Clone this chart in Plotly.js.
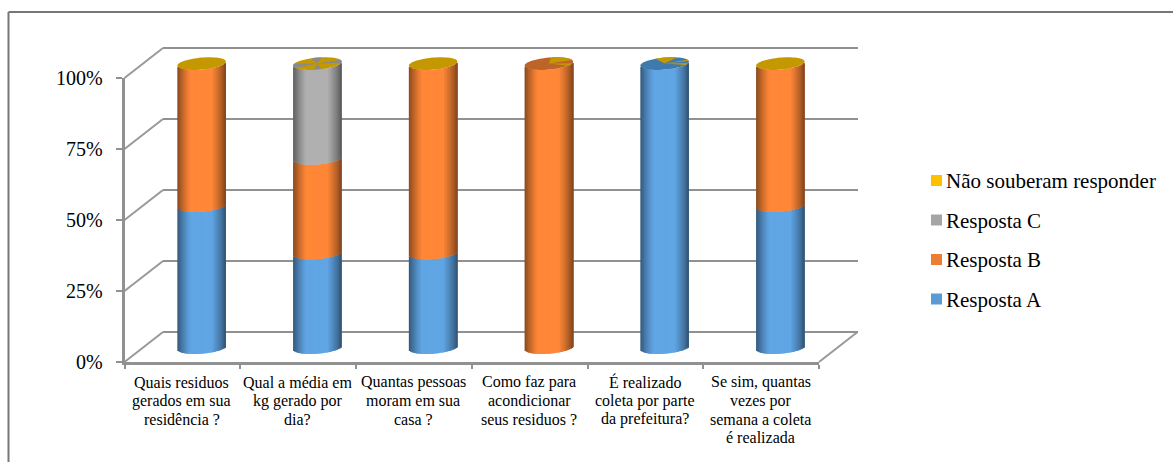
<!DOCTYPE html>
<html><head><meta charset="utf-8">
<script src="https://cdn.plot.ly/plotly-3.0.1.min.js"></script>
<style>html,body{margin:0;padding:0;background:#fff}</style></head>
<body><div id="chart" style="width:1173px;height:462px"></div>
<script>
const categories = ["Quais residuos<br>gerados em sua<br>residência ?","Qual a média em<br>kg gerado por<br>dia?","Quantas pessoas<br>moram em sua<br>casa ?","Como faz para<br>acondicionar<br>seus residuos ?","É realizado<br>coleta por parte<br>da prefeitura?","Se sim, quantas<br>vezes por<br>semana a coleta<br>é realizada"];
const respostaA = [50,33.3,33.3,0,100,50];
const respostaB = [50,33.3,66.7,100,0,50];
const respostaC = [0,33.4,0,0,0,0];
const naoSouberam = [0,0,0,0,0,0];
const seriesNames = ["Resposta A","Resposta B","Resposta C","Não souberam responder"];
const seriesColors = ["#5B9BD5","#ED7D31","#A5A5A5","#FFC000"];
const brightColors = [[96,165,228],[255,135,55],[176,176,176],[255,192,0]];
const capBase = ["#C49800","#C49800","#C49800","#BC6429","#3F7AAD","#C49800"];
const capWedges = [[],[[160,205,"#8A8A8A"],[-12,18,"#8A8A8A"],[80,105,"#8A8A8A"],[262,280,"#8A8A8A"]],[],[[15,85,"#C49800"],[-38,-15,"#C49800"]],[[60,112,"#C49800"],[5,20,"#C49800"],[-32,-12,"#C49800"]],[]];
const yTicks = [0,25,50,75,100];
const yTickLabels = ["0%","25%","50%","75%","100%"];

// geometry in pixels of the picture
const W=1173,H=462;
const FX0=124.5,FX1=819,FY0=362,FY1=78;   // front frame
const DX=38.5,DY=30;                      // depth of the box
const SPAN=FY0-FY1, UNIT=(FX1-FX0)/6;
const R=24.3,B=6,TILT=-4/48.4,N=40;
const PAD=6;                               // value padding of the cylinder axis
const WPAD=1;                              // value padding of the back wall axis
const dom=(a,b)=>[a/W,b/W];
const vdom=(a,b)=>[(H-a)/H,(H-b)/H];
const pxX=x=>x/W, pxY=y=>(H-y)/H;

function shade(t){
  const u=Math.abs(t);
  const s=u<0.45?1:1-0.46*Math.pow((u-0.45)/0.55,1.2);
  return s*(t>0&&u>=0.45?0.96:1);
}
function stripColor(c,t){const s=shade(t);return `rgb(${c.map(v=>Math.round(v*s)).join(",")})`;}

const stacks=[respostaA,respostaB,respostaC,naoSouberam];
const traces=[];
// anchors the back wall and the front axes
traces.push({type:"scatter",x:[0],y:[null],xaxis:"x",yaxis:"y",showlegend:false,hoverinfo:"skip"});
traces.push({type:"bar",x:categories,y:categories.map(()=>null),xaxis:"x2",yaxis:"y2",showlegend:false,hoverinfo:"skip"});
// cylinders as vertical strips
const cum=categories.map(()=>0);
stacks.forEach((s,k)=>{
  const xs=[],bs=[],hs=[],cs=[],ws=[];
  const w=2*R/N/UNIT;
  s.forEach((v,i)=>{
    if(v>0){
      for(let j=0;j<N;j++){
        const t=-1+(2*j+1)/N, dx=t*R;
        const dPx=TILT*dx+B*Math.sqrt(1-t*t);
        xs.push(i-R/UNIT+j*w);
        ws.push(j<N-1?2*w:w);
        bs.push(cum[i]-dPx/SPAN*100);
        hs.push(v);
        cs.push(stripColor(brightColors[k],t));
      }
    }
    cum[i]+=v;
  });
  if(xs.length) traces.push({type:"bar",x:xs,y:hs,base:bs,width:ws,offset:0,xaxis:"x3",yaxis:"y3",name:seriesNames[k],showlegend:false,hoverinfo:"skip",
    marker:{color:cs,line:{width:0}}});
});

function capPoint(i,deg){
  const a=deg*Math.PI/180, dx=R*Math.cos(a), dy=-B*Math.sin(a)+TILT*dx;
  return [i+dx/UNIT, 100-dy/SPAN*100];
}
function capPath(i,a0,a1,wedge){
  let d="",n=Math.max(6,Math.round(Math.abs(a1-a0)/6));
  if(wedge) d=`M${i},100 `;
  for(let j=0;j<=n;j++){const p=capPoint(i,a0+(a1-a0)*j/n);d+=(d?"L":"M")+p[0]+","+p[1]+" ";}
  return d+"Z";
}
const shapes=[],annotations=[];
const GRAY="#919191",WALL="#999999";
// outer frame: only the top and left edges are inside the picture
shapes.push({type:"line",xref:"paper",yref:"paper",x0:pxX(8.5),x1:1,y0:pxY(12),y1:pxY(12),line:{color:"#777777",width:2},layer:"below"});
shapes.push({type:"line",xref:"paper",yref:"paper",x0:pxX(8.5),x1:pxX(8.5),y0:pxY(12),y1:0,line:{color:"#777777",width:2},layer:"below"});
// left wall and floor depth lines
yTicks.forEach(v=>{const y=FY0-SPAN*v/100;
  shapes.push({type:"line",xref:"paper",yref:"paper",x0:pxX(FX0),y0:pxY(y),x1:pxX(FX0+DX),y1:pxY(y-DY),line:{color:WALL,width:2},layer:"below"});});
shapes.push({type:"line",xref:"paper",yref:"paper",x0:pxX(FX1),y0:pxY(FY0),x1:pxX(FX1+DX),y1:pxY(FY0-DY),line:{color:WALL,width:2},layer:"below"});
// top caps
categories.forEach((c,i)=>{
  shapes.push({type:"path",xref:"x3",yref:"y3",path:capPath(i,0,360,false),fillcolor:capBase[i],line:{width:0},layer:"above"});
  capWedges[i].forEach(w=>shapes.push({type:"path",xref:"x3",yref:"y3",path:capPath(i,w[0],w[1],true),fillcolor:w[2],line:{width:0},layer:"above"}));
});

const serif='"Liberation Serif","Times New Roman",serif';
// category labels, line by line
categories.forEach((c,i)=>c.split("<br>").forEach((line,l)=>annotations.push({xref:"paper",yref:"paper",x:pxX(FX0+UNIT*(i+0.5)-0.5),y:pxY(382+18.5*l),xanchor:"center",yanchor:"middle",showarrow:false,text:line,font:{size:16,family:serif,color:"#000"},borderpad:0})));
// legend, top to bottom
[3,2,1,0].forEach((k,r)=>{
  const yc=180.5+39.5*r;
  shapes.push({type:"rect",xref:"paper",yref:"paper",x0:pxX(931),x1:pxX(942),y0:pxY(yc-5.5),y1:pxY(yc+5.5),fillcolor:seriesColors[k],line:{width:0},layer:"above"});
  annotations.push({xref:"paper",yref:"paper",x:pxX(945),y:pxY(yc+0.8),xanchor:"left",yanchor:"middle",showarrow:false,text:seriesNames[k],font:{size:21,family:serif,color:"#000"},borderpad:0});
});

const hidden={visible:false,fixedrange:true};
const layout={
  width:W,height:H,margin:{l:0,r:0,t:0,b:0},paper_bgcolor:"#fff",plot_bgcolor:"rgba(0,0,0,0)",
  barmode:"overlay",showlegend:false,font:{family:serif,color:"#000"},shapes,annotations,
  // back wall
  xaxis:{domain:dom(FX0+DX,FX1+DX),anchor:"y",range:[0,1],showgrid:false,zeroline:false,showticklabels:false,ticks:"",showline:false},
  yaxis:{domain:vdom(FY0-DY+WPAD*SPAN/100,FY1-DY-WPAD*SPAN/100),anchor:"x",range:[-WPAD,100+WPAD],tickvals:yTicks,showticklabels:false,ticks:"",showgrid:true,gridcolor:GRAY,gridwidth:2,zeroline:false,showline:false},
  // front axes
  xaxis2:{domain:dom(FX0,FX1),anchor:"y2",type:"category",categoryorder:"array",categoryarray:categories,range:[-0.5,5.5],tickson:"boundaries",ticks:"outside",ticklen:4,tickcolor:GRAY,tickwidth:1.5,showline:true,linecolor:GRAY,linewidth:2.5,showgrid:false,showticklabels:false},
  yaxis2:{domain:vdom(FY0,FY1),anchor:"x2",range:[0,100],tickvals:yTicks,ticktext:yTickLabels,ticks:"outside",ticklen:6,tickcolor:GRAY,tickwidth:1.5,showline:true,linecolor:GRAY,linewidth:2.5,showgrid:false,zeroline:false,tickfont:{size:20,family:serif,color:"#000"},ticklabelstandoff:9},
  // cylinders
  xaxis3:Object.assign({domain:dom(FX0+DX/2,FX1+DX/2),anchor:"y3",range:[-0.5,5.5]},hidden),
  yaxis3:Object.assign({domain:vdom(FY0-DY/2+0.6+PAD*SPAN/100,FY1-DY/2+0.6-PAD*SPAN/100),anchor:"x3",range:[-PAD,100+PAD]},hidden)
};
Plotly.newPlot("chart",traces,layout,{displayModeBar:false,responsive:false});
</script></body></html>
